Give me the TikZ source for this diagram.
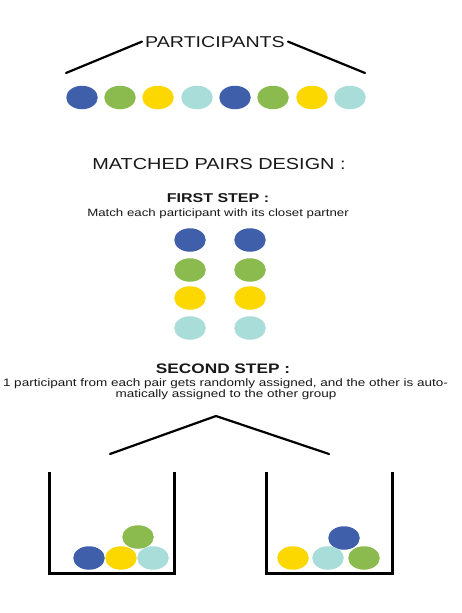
\documentclass[tikz,border=0pt]{standalone}
\usepackage{fontspec}
\usepackage{graphicx}
\setmainfont{Liberation Sans}
\usetikzlibrary{shapes.geometric}
\definecolor{cblue}{HTML}{3F5FAA}
\definecolor{cgreen}{HTML}{8BBB4F}
\definecolor{cyellow}{HTML}{FCD800}
\definecolor{cteal}{HTML}{A8DDD9}
\newcommand{\wide}[1]{\scalebox{1.25}[1]{#1}}
\tikzset{
  ball/.style={ellipse, minimum width=31.5pt, minimum height=23.5pt, inner sep=0pt, draw=none},
  bb/.style={ball, fill=cblue}, bg/.style={ball, fill=cgreen},
  by/.style={ball, fill=cyellow}, bt/.style={ball, fill=cteal},
  ln/.style={line width=2.2pt, line cap=round},
  bin/.style={line width=3pt, line join=miter},
  txt/.style={inner sep=0pt, anchor=base, text=black!90}
}
\begin{document}
\begin{tikzpicture}[x=1pt,y=-1pt]
\useasboundingbox[fill=white] (0,0) rectangle (462,613);
% title
\node[txt, inner xsep=3pt, font=\fontsize{15.7}{18}\selectfont] (part) at (215,47) {\wide{PARTICIPANTS}};
\coordinate (pl) at (66,73);
\coordinate (pr) at (365,73);
\draw[ln] (pl) -- (part.west);
\draw[ln] (part.east) -- (pr);
% row of participants
\node[bb] (p1) at (82,97.5) {};
\node[bg] (p2) at (120,97.5) {};
\node[by] (p3) at (158,97.5) {};
\node[bt] (p4) at (197,97.5) {};
\node[bb] (p5) at (235,97.5) {};
\node[bg] (p6) at (273,97.5) {};
\node[by] (p7) at (312,97.5) {};
\node[bt] (p8) at (350,97.5) {};
% headings
\node[txt, font=\fontsize{15.9}{18}\selectfont] (mpd) at (219,169.5) {\wide{MATCHED PAIRS DESIGN :}};
\node[txt, font=\bfseries\fontsize{12.8}{15}\selectfont] (fs) at (218,202.5) {\wide{FIRST STEP :}};
\node[txt, font=\fontsize{10.6}{12}\selectfont] (fsd) at (218,216) {\wide{Match each participant with its closet partner}};
% pairs
\node[bb] (a1) at (190,240) {}; \node[bb] (a2) at (250,240) {};
\node[bg] (b1) at (190,270) {}; \node[bg] (b2) at (250,270) {};
\node[by] (c1) at (190,298) {}; \node[by] (c2) at (250,298) {};
\node[bt] (d1) at (190,328) {}; \node[bt] (d2) at (250,328) {};
% second step
\node[txt, font=\bfseries\fontsize{13.8}{16}\selectfont] (ss) at (223,373.5) {\wide{SECOND STEP :}};
\node[txt, font=\fontsize{10.8}{12}\selectfont] (ssd1) at (225.5,386) {\wide{1 participant from each pair gets randomly assigned, and the other is auto-}};
\node[txt, font=\fontsize{10.8}{12}\selectfont] (ssd2) at (226,397.5) {\wide{matically assigned to the other group}};
% roof
\coordinate (rl) at (110,454);
\coordinate (rt) at (216,416);
\coordinate (rr) at (329,454);
\draw[ln] (rl) -- (rt) -- (rr);
% bins
\coordinate (l1) at (49,472); \coordinate (l2) at (49,573); \coordinate (l3) at (174,573); \coordinate (l4) at (174,472);
\coordinate (r1) at (266,472); \coordinate (r2) at (266,573); \coordinate (r3) at (392,573); \coordinate (r4) at (392,472);
\draw[bin] (l1) -- (l2) -- (l3) -- (l4);
\draw[bin] (r1) -- (r2) -- (r3) -- (r4);
% left bin balls
\node[bg] (lg) at (138,537) {};
\node[bb] (lb) at (89,558) {};
\node[by] (ly) at (121,558) {};
\node[bt] (lt) at (153,558) {};
% right bin balls
\node[bb] (rb) at (344,538) {};
\node[by] (ry) at (293,558) {};
\node[bt] (rtl) at (328,558) {};
\node[bg] (rg) at (364,558) {};
\end{tikzpicture}
\end{document}
